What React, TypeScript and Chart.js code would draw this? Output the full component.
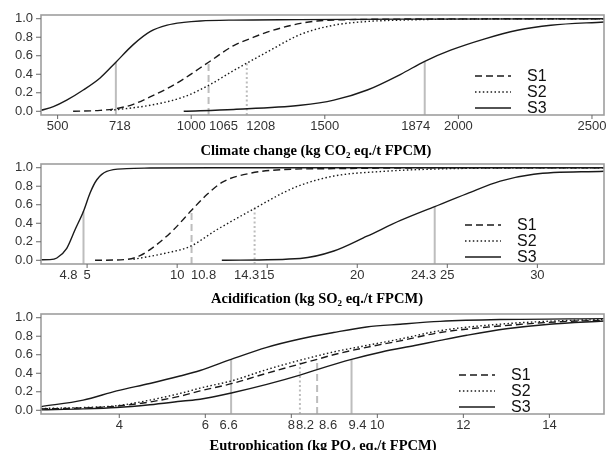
import React, { useEffect, useRef } from 'react';
import { Chart, registerables } from 'chart.js';

Chart.register(...registerables);

type Pt = [number, number];

// ---------- shared ----------
const yTicks = [0, 0.2, 0.4, 0.6, 0.8, 1.0];
const yMin = -0.04;
const yMax = 1.04;
const legendLabels = ['S1', 'S2', 'S3'];

// ---------- Climate change ----------
const climateBase: Pt[] = [[437, 0.01], [484, 0.05], [534, 0.12], [596, 0.23], [659, 0.36], [718, 0.53], [783, 0.72], [846, 0.86], [910, 0.93], [972, 0.96], [1034, 0.975], [1159, 0.985], [1400, 0.99], [1800, 0.995], [2545, 1]];
const climateS1: Pt[] = [[558, 0], [659, 0.01], [721, 0.03], [783, 0.075], [846, 0.155], [910, 0.245], [972, 0.35], [1065, 0.53], [1159, 0.71], [1221, 0.785], [1284, 0.855], [1409, 0.95], [1471, 0.975], [1596, 0.99], [1908, 0.997], [2545, 1]];
const climateS2: Pt[] = [[697, 0.01], [846, 0.065], [972, 0.155], [1065, 0.28], [1159, 0.44], [1208, 0.52], [1284, 0.64], [1409, 0.83], [1534, 0.93], [1659, 0.97], [1784, 0.985], [1971, 0.995], [2545, 1]];
const climateS3: Pt[] = [[972, 0], [1159, 0.02], [1409, 0.065], [1534, 0.12], [1659, 0.23], [1784, 0.4], [1874, 0.54], [1971, 0.66], [2096, 0.78], [2221, 0.875], [2346, 0.93], [2545, 0.965]];
const climateTicks = [500, 1000, 1500, 2000, 2500];
const climateMedians = [718, 1065, 1208, 1874];
const climateMedianTops = [0.53, 0.53, 0.52, 0.54];
const climateMedianSeries = [0, 1, 2, 3];

// ---------- Acidification ----------
const acidBase: Pt[] = [[2.43, 0.005], [2.94, 0.007], [3.32, 0.025], [3.87, 0.13], [4.33, 0.33], [4.8, 0.53], [5.17, 0.73], [5.54, 0.87], [6.09, 0.96], [7.2, 0.99], [8.5, 0.996], [12, 1], [33.7, 1]];
const acidS1: Pt[] = [[5.44, 0], [7.2, 0.01], [7.94, 0.05], [8.87, 0.17], [9.8, 0.33], [10.8, 0.54], [11.65, 0.71], [12.57, 0.85], [14.06, 0.94], [15.9, 0.98], [18.7, 0.99], [22.4, 0.997], [33.7, 1]];
const acidS2: Pt[] = [[7.57, 0.01], [9.43, 0.08], [10.72, 0.15], [12.2, 0.33], [14.3, 0.56], [15.9, 0.73], [16.83, 0.81], [18.7, 0.91], [21.4, 0.96], [24.2, 0.985], [28, 0.997], [33.7, 1]];
const acidS3: Pt[] = [[12.48, 0], [16.83, 0.02], [18.7, 0.1], [20.54, 0.26], [22.4, 0.43], [24.3, 0.58], [26.1, 0.72], [27.94, 0.855], [29.8, 0.93], [33.7, 0.962]];
const acidTicks = [5, 10, 15, 20, 25, 30];
const acidMedians = [4.8, 10.8, 14.3, 24.3];
const acidMedianTops = [0.53, 0.55, 0.57, 0.58];
const acidMedianSeries = [0, 1, 2, 3];

// ---------- Eutrophication ----------
const eutroBase: Pt[] = [[2.18, 0.04], [3.16, 0.11], [3.94, 0.21], [4.71, 0.29], [5.41, 0.37], [5.88, 0.43], [6.6, 0.55], [7.43, 0.68], [8.2, 0.77], [8.98, 0.84], [9.75, 0.9], [10.53, 0.93], [11.46, 0.96], [12.85, 0.98], [15.27, 0.99]];
const eutroS1: Pt[] = [[2.18, 0.015], [3.16, 0.025], [3.94, 0.045], [4.71, 0.09], [5.48, 0.16], [5.88, 0.21], [6.63, 0.29], [7.43, 0.4], [8.2, 0.5], [8.6, 0.55], [8.98, 0.6], [9.75, 0.68], [10.53, 0.75], [11.46, 0.84], [12.85, 0.91], [14.4, 0.96], [15.27, 0.97]];
const eutroS2: Pt[] = [[2.18, 0.02], [3.16, 0.03], [3.94, 0.05], [4.71, 0.11], [5.48, 0.19], [5.88, 0.24], [6.63, 0.32], [7.43, 0.44], [8.2, 0.54], [8.98, 0.63], [9.75, 0.7], [10.53, 0.77], [11.46, 0.86], [12.85, 0.93], [14.4, 0.97], [15.27, 0.98]];
const eutroS3: Pt[] = [[2.18, 0.005], [3.16, 0.015], [3.94, 0.03], [4.71, 0.06], [5.48, 0.1], [5.88, 0.12], [6.63, 0.19], [7.43, 0.28], [8.2, 0.38], [8.6, 0.44], [9.4, 0.55], [10.1, 0.63], [10.87, 0.7], [11.46, 0.755], [12.08, 0.81], [13.0, 0.88], [14.0, 0.93], [15.27, 0.965]];
const eutroTicks = [4, 6, 8, 10, 12, 14];
const eutroMedians = [6.6, 8.2, 8.6, 9.4];
const eutroMedianTops = [0.55, 0.54, 0.55, 0.55];
const eutroMedianSeries = [0, 2, 1, 3];

// ---------- styles ----------
const seriesDash: number[][] = [[], [7, 4], [1.5, 2.4], []];
const medianDash: number[][] = [[], [7, 4], [2, 2.5], []];
const legendDash: number[][] = [[7, 4], [1.5, 2.4], []];
const curveColor = '#1a1a1a';
const medianColor = '#bdbdbd';
const tickFont = '13px "Liberation Sans", Arial, sans-serif';
const legendFont = '16px "Liberation Sans", Arial, sans-serif';
const titleFamily = '"Liberation Serif", "Times New Roman", serif';

interface PanelCfg {
  curves: Pt[][];
  xMin: number;
  xMax: number;
  ticks: number[];
  medians: number[];
  medianTops: number[];
  medianSeries: number[];
  labelDx: number[];
  title: [string, string, string];
  top: number;
  height: number;
  padTop: number;
  padBottom: number;
  titleX: number;
  titleDy: number;
  legendX: number;
}

const panels: PanelCfg[] = [
  {
    curves: [climateBase, climateS1, climateS2, climateS3],
    xMin: 437.8, xMax: 2545,
    ticks: climateTicks, medians: climateMedians, medianTops: climateMedianTops, medianSeries: climateMedianSeries,
    labelDx: [4, 15, 14, -9],
    title: ['Climate change (kg CO', '2', ' eq./t FPCM)'],
    top: 0, height: 164, padTop: 15, padBottom: 49, titleX: 316, titleDy: 35, legendX: 475,
  },
  {
    curves: [acidBase, acidS1, acidS2, acidS3],
    xMin: 2.44, xMax: 33.7,
    ticks: acidTicks, medians: acidMedians, medianTops: acidMedianTops, medianSeries: acidMedianSeries,
    labelDx: [-15, 12, -8, -11],
    title: ['Acidification (kg SO', '2', ' eq./t FPCM)'],
    top: 160, height: 150, padTop: 4, padBottom: 46, titleX: 317, titleDy: 34, legendX: 465,
  },
  {
    curves: [eutroBase, eutroS1, eutroS2, eutroS3],
    xMin: 2.18, xMax: 15.27,
    ticks: eutroTicks, medians: eutroMedians, medianTops: eutroMedianTops, medianSeries: eutroMedianSeries,
    labelDx: [-2.5, 5, 11, 6],
    title: ['Eutrophication (kg PO', '4', ' eq./t FPCM)'],
    top: 310, height: 140, padTop: 4, padBottom: 36, titleX: 323, titleDy: 31, legendX: 459,
  },
];

function decor(p: PanelCfg) {
  return {
    id: 'decor',
    afterDraw(chart: any) {
      const { ctx, chartArea: a, scales } = chart;
      const xs = scales.x;
      const ys = scales.y;
      ctx.save();
      ctx.setLineDash([]);
      // frame
      ctx.strokeStyle = '#9e9e9e';
      ctx.lineWidth = 1.6;
      ctx.strokeRect(a.left, a.top, a.right - a.left, a.bottom - a.top);
      // y axis
      ctx.strokeStyle = '#666';
      ctx.lineWidth = 1;
      ctx.font = tickFont;
      ctx.fillStyle = '#333';
      ctx.textAlign = 'right';
      ctx.textBaseline = 'middle';
      yTicks.forEach((t) => {
        const y = ys.getPixelForValue(t);
        ctx.beginPath();
        ctx.moveTo(a.left - 5, y);
        ctx.lineTo(a.left, y);
        ctx.stroke();
        ctx.fillText(t.toFixed(1), a.left - 8, y);
      });
      // x axis
      ctx.textAlign = 'center';
      p.ticks.forEach((t) => {
        const x = xs.getPixelForValue(t);
        ctx.beginPath();
        ctx.moveTo(x, a.bottom);
        ctx.lineTo(x, a.bottom + 4);
        ctx.stroke();
        ctx.fillText(String(t), x, a.bottom + 11);
      });
      p.medians.forEach((m, i) => {
        const x = xs.getPixelForValue(m);
        ctx.fillText(String(m), x + p.labelDx[i], a.bottom + 11);
      });
      // legend
      const rows = [61, 77, 93];
      legendLabels.forEach((lab, i) => {
        const y = a.top + rows[i];
        ctx.strokeStyle = curveColor;
        ctx.lineWidth = 1.4;
        ctx.setLineDash(legendDash[i]);
        ctx.beginPath();
        ctx.moveTo(p.legendX, y);
        ctx.lineTo(p.legendX + 36, y);
        ctx.stroke();
        ctx.setLineDash([]);
        ctx.font = legendFont;
        ctx.fillStyle = '#111';
        ctx.textAlign = 'left';
        ctx.textBaseline = 'middle';
        ctx.fillText(lab, p.legendX + 52, y + 1);
      });
      // title with subscript
      const mainFont = 'bold 14.5px ' + titleFamily;
      const subFont = 'bold 9px ' + titleFamily;
      ctx.fillStyle = '#000';
      ctx.textBaseline = 'alphabetic';
      ctx.textAlign = 'left';
      ctx.font = mainFont;
      const w1 = ctx.measureText(p.title[0]).width;
      const w3 = ctx.measureText(p.title[2]).width;
      ctx.font = subFont;
      const w2 = ctx.measureText(p.title[1]).width;
      let x0 = p.titleX - (w1 + w2 + w3) / 2;
      const by = a.bottom + p.titleDy + 5;
      ctx.font = mainFont;
      ctx.fillText(p.title[0], x0, by);
      x0 += w1;
      ctx.font = subFont;
      ctx.fillText(p.title[1], x0, by + 3);
      x0 += w2;
      ctx.font = mainFont;
      ctx.fillText(p.title[2], x0, by);
      ctx.restore();
    },
  };
}

function PanelChart({ p }: { p: PanelCfg }) {
  const ref = useRef<HTMLCanvasElement | null>(null);
  useEffect(() => {
    if (!ref.current) return;
    const curveSets = p.curves.map((pts, i) => ({
      data: pts.map(([x, y]) => ({ x, y })),
      borderColor: curveColor,
      borderWidth: 1.4,
      borderDash: seriesDash[i],
      cubicInterpolationMode: 'monotone' as const,
      pointRadius: 0,
      fill: false,
      order: 1,
    }));
    const medianSets = p.medians.map((m, i) => ({
      data: [{ x: m, y: yMin }, { x: m, y: p.medianTops[i] }],
      borderColor: medianColor,
      borderWidth: 2,
      borderDash: medianDash[p.medianSeries[i]],
      pointRadius: 0,
      fill: false,
      order: 2,
    }));
    const chart = new Chart(ref.current, {
      type: 'line',
      data: { datasets: [...curveSets, ...medianSets] as any },
      options: {
        animation: false,
        responsive: false,
        devicePixelRatio: 1,
        layout: { padding: { left: 41, right: 3, top: p.padTop, bottom: p.padBottom } },
        scales: {
          x: { type: 'linear', min: p.xMin, max: p.xMax, display: false },
          y: { type: 'linear', min: yMin, max: yMax, display: false },
        },
        plugins: { legend: { display: false }, tooltip: { enabled: false } },
        elements: { point: { radius: 0 } },
      },
      plugins: [decor(p)],
    });
    return () => chart.destroy();
  }, [p]);
  return (
    <canvas
      ref={ref}
      width={607}
      height={p.height}
      style={{ position: 'absolute', left: 0, top: p.top, width: 607, height: p.height, display: 'block' }}
    />
  );
}

export default function App() {
  return (
    <div style={{ position: 'absolute', left: 0, top: 0, width: 607, height: 450, background: '#fff', overflow: 'hidden' }}>
      {panels.map((p, i) => (
        <PanelChart key={i} p={p} />
      ))}
    </div>
  );
}
